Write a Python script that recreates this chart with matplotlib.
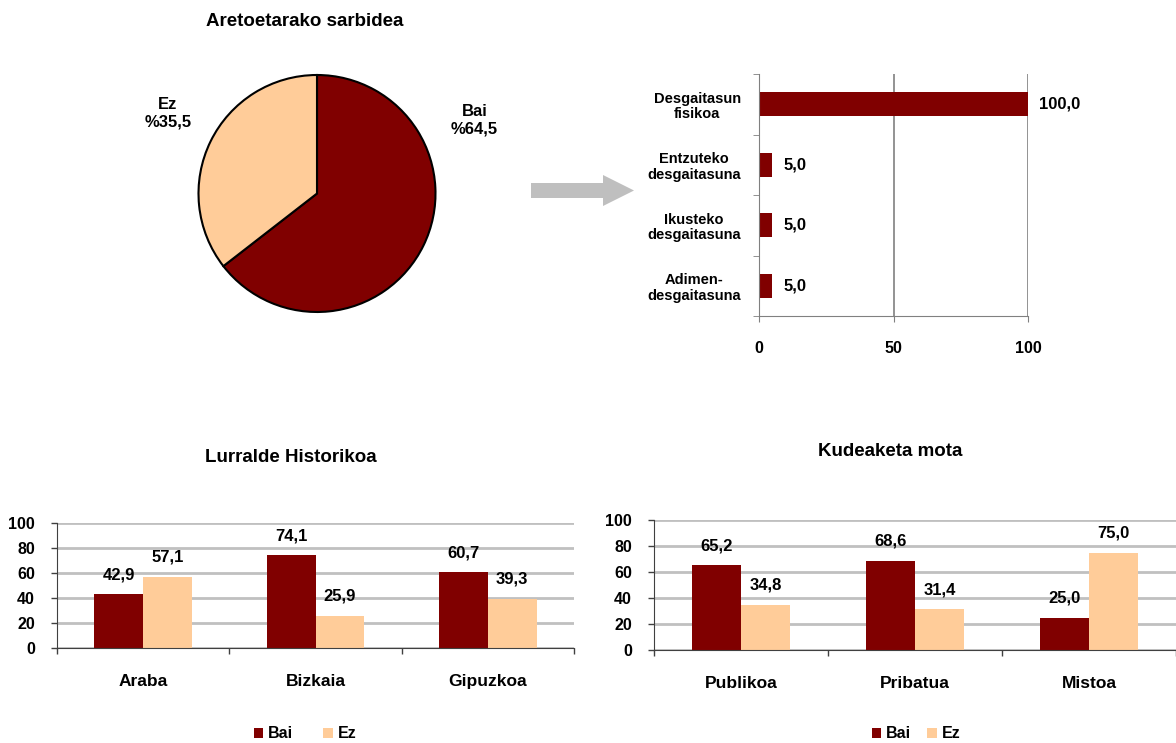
import matplotlib
matplotlib.use("Agg")
import matplotlib.pyplot as plt
from matplotlib.patches import Polygon
import numpy as np

plt.rcParams["font.family"] = ["Liberation Sans", "DejaVu Sans"]
plt.rcParams["font.weight"] = "bold"
plt.rcParams["axes.titleweight"] = "bold"

DARK = "#800000"
LIGHT = "#FFCC99"
GRID = "#C0C0C0"
AXIS = "#808080"

W, H = 1176, 743

# pie data
pie_labels = ["Bai", "Ez"]
pie_values = [64.5, 35.5]

# disability breakdown
dis_labels = ["Desgaitasun\nfisikoa", "Entzuteko\ndesgaitasuna",
              "Ikusteko\ndesgaitasuna", "Adimen-\ndesgaitasuna"]
dis_values = [100.0, 5.0, 5.0, 5.0]

# by province
prov_labels = ["Araba", "Bizkaia", "Gipuzkoa"]
prov_bai = [42.9, 74.1, 60.7]
prov_ez = [57.1, 25.9, 39.3]

# by management type
mgmt_labels = ["Publikoa", "Pribatua", "Mistoa"]
mgmt_bai = [65.2, 68.6, 25.0]
mgmt_ez = [34.8, 31.4, 75.0]


def fmt(v):
    return f"{v:.1f}".replace(".", ",")


def px_axes(fig, x0, y_top, x1, y_bottom):
    """add axes from pixel box (origin top-left)"""
    return fig.add_axes([x0 / W, 1 - y_bottom / H, (x1 - x0) / W, (y_bottom - y_top) / H])


def grouped_bars(fig, box, cats, bai, ez, title, title_xy, legend_xy, colspace):
    ax = px_axes(fig, *box)
    x = np.arange(len(cats))
    w = 0.283
    b1 = ax.bar(x - w / 2, bai, w, color=DARK, label="Bai")
    b2 = ax.bar(x + w / 2, ez, w, color=LIGHT, label="Ez")
    for bars, vals in ((b1, bai), (b2, ez)):
        for r, v in zip(bars, vals):
            ax.annotate(fmt(v), (r.get_x() + r.get_width() / 2, v),
                        xytext=(0, 14), textcoords="offset points",
                        ha="center", va="center", fontsize=12, fontweight="bold")
    ax.set_xlim(-0.5, len(cats) - 0.5)
    ax.set_ylim(0, 100)
    ax.set_yticks(range(0, 101, 20))
    ax.yaxis.grid(True, color=GRID, lw=2)
    ax.set_axisbelow(True)
    ax.set_xticks(x)
    ax.set_xticklabels(cats, fontsize=12.5, fontweight="bold")
    ax.set_xticks(np.arange(len(cats) + 1) - 0.5, minor=True)
    ax.tick_params(axis="x", which="major", length=0, pad=19)
    ax.tick_params(axis="x", which="minor", length=4, width=1, color="#404040")
    ax.tick_params(axis="y", length=4, width=1, color="#404040", labelsize=11.5, pad=12)
    for s in ("top", "right"):
        ax.spines[s].set_visible(False)
    ax.spines["left"].set_color("#404040")
    ax.spines["bottom"].set_color("#404040")
    fig.text(title_xy[0] / W, 1 - title_xy[1] / H, title, ha="center", va="center",
             fontsize=13.5, fontweight="bold")
    ax.legend(loc="center", bbox_to_anchor=(legend_xy[0] / W, 1 - legend_xy[1] / H),
              bbox_transform=fig.transFigure, ncol=2, frameon=False,
              handlelength=0.6, handleheight=0.6, handletextpad=0.3,
              columnspacing=colspace, prop={"size": 11.5, "weight": "bold"})
    return ax


fig = plt.figure(figsize=(W / 100, H / 100), dpi=100)

# pie
r = 118.5
cx, cy = 317, 193.5
k = 1.35
ax_pie = px_axes(fig, cx - k * r, cy - k * r, cx + k * r, cy + k * r)
ax_pie.pie(pie_values, colors=[DARK, LIGHT], startangle=90, counterclock=False,
           wedgeprops={"edgecolor": "black", "linewidth": 1.5})
ax_pie.set_xlim(-k, k)
ax_pie.set_ylim(-k, k)
ax_pie.set_aspect("equal")
ax_pie.axis("off")
ax_pie.text(1.33, 0.62, f"{pie_labels[0]}\n%{fmt(pie_values[0])}", ha="center", va="center",
            fontsize=12, fontweight="bold", linespacing=1.2)
ax_pie.text(-1.26, 0.675, f"{pie_labels[1]}\n%{fmt(pie_values[1])}", ha="center", va="center",
            fontsize=12, fontweight="bold", linespacing=1.2)
fig.text(305 / W, 1 - 21 / H, "Aretoetarako sarbidea", ha="center", va="center",
         fontsize=13.5, fontweight="bold")

# arrow
pts = [(531, 183), (603, 183), (603, 175), (634, 190.5), (603, 206), (603, 198), (531, 198)]
fig.patches.append(Polygon([(x / W, 1 - y / H) for x, y in pts], closed=True,
                           transform=fig.transFigure, facecolor="#BFBFBF", edgecolor="none"))

# horizontal bars
ax_h = px_axes(fig, 759, 74, 1028, 316)
yy = np.arange(len(dis_labels))
ax_h.barh(yy, dis_values, 0.4, color=DARK)
for y, v in zip(yy, dis_values):
    ax_h.annotate(fmt(v), (v, y), xytext=(8, 0), textcoords="offset points",
                  ha="left", va="center", fontsize=12, fontweight="bold")
ax_h.set_xlim(0, 100)
ax_h.set_ylim(len(dis_labels) - 0.5, -0.5)
ax_h.set_xticks([0, 50, 100])
ax_h.xaxis.grid(True, color=AXIS, lw=1.2)
ax_h.set_axisbelow(True)
ax_h.set_yticks(yy)
ax_h.set_yticklabels(dis_labels, fontsize=10.5, fontweight="bold", multialignment="center",
                     linespacing=1.15)
ax_h.set_yticks(np.arange(len(dis_labels) + 1) - 0.5, minor=True)
ax_h.tick_params(axis="y", which="major", length=0, pad=13)
ax_h.tick_params(axis="y", which="minor", length=4, color=AXIS)
ax_h.tick_params(axis="x", length=4, color=AXIS, labelsize=11.5, pad=14)
for s in ("top", "right"):
    ax_h.spines[s].set_visible(False)
ax_h.spines["left"].set_color(AXIS)
ax_h.spines["bottom"].set_color(AXIS)

grouped_bars(fig, (57, 523, 574, 648), prov_labels, prov_bai, prov_ez,
             "Lurralde Historikoa", (291, 457), (305, 734), 1.9)
grouped_bars(fig, (654, 520, 1176, 650), mgmt_labels, mgmt_bai, mgmt_ez,
             "Kudeaketa mota", (890, 452), (916, 734), 1.0)

fig.savefig("out.png", dpi=100)
